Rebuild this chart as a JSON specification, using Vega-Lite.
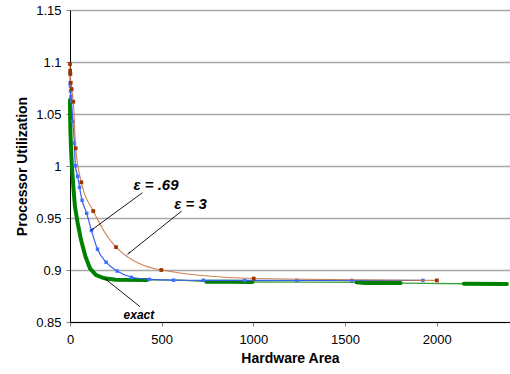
{
  "$schema": "https://vega.github.io/schema/vega-lite/v6.json",
  "width": 440,
  "height": 312,
  "autosize": {"type": "none"},
  "padding": {"left": 70, "top": 10, "right": 0, "bottom": 52},
  "background": "white",
  "config": {
    "view": {"stroke": null},
    "font": "Liberation Sans",
    "axis": {
      "labelFont": "Liberation Sans",
      "labelFontSize": 13,
      "labelColor": "#000000",
      "titleFont": "Liberation Sans",
      "titleFontSize": 14,
      "titleFontWeight": "bold",
      "titleColor": "#000000",
      "domainColor": "#000000",
      "domainWidth": 1,
      "tickColor": "gray",
      "tickSize": 4
    }
  },
  "datasets": {
    "eps3": [
      {"x": 0, "y": 1.098}, {"x": 1, "y": 1.0917}, {"x": 2, "y": 1.0885}, {"x": 4, "y": 1.080},
      {"x": 9, "y": 1.074}, {"x": 18, "y": 1.0618}, {"x": 31, "y": 1.017}, {"x": 62, "y": 0.9843},
      {"x": 127, "y": 0.9567}, {"x": 251, "y": 0.922}, {"x": 498, "y": 0.900}, {"x": 1002, "y": 0.8918},
      {"x": 2001, "y": 0.8900}
    ],
    "eps69": [
      {"x": 0, "y": 1.089}, {"x": 1, "y": 1.0795}, {"x": 2, "y": 1.077}, {"x": 3, "y": 1.072},
      {"x": 5, "y": 1.0667}, {"x": 8, "y": 1.0625}, {"x": 15, "y": 1.043}, {"x": 24, "y": 1.022},
      {"x": 29, "y": 1.0003}, {"x": 42, "y": 0.990}, {"x": 52, "y": 0.9795}, {"x": 66, "y": 0.967},
      {"x": 91, "y": 0.9545}, {"x": 117, "y": 0.938}, {"x": 150, "y": 0.920}, {"x": 197, "y": 0.9075},
      {"x": 257, "y": 0.899}, {"x": 335, "y": 0.893}, {"x": 433, "y": 0.891}, {"x": 565, "y": 0.8902},
      {"x": 728, "y": 0.8901}, {"x": 952, "y": 0.8900}, {"x": 1237, "y": 0.8900}, {"x": 1537, "y": 0.8900},
      {"x": 1925, "y": 0.8900}
    ],
    "exact": [
      {"x": 0, "y": 1.0635, "run": "A"}, {"x": 0.5, "y": 1.05, "run": "A"}, {"x": 2, "y": 1.035, "run": "A"},
      {"x": 5, "y": 1.020, "run": "A"}, {"x": 9, "y": 1.004, "run": "A"}, {"x": 15, "y": 0.988, "run": "A"},
      {"x": 21, "y": 0.974, "run": "A"}, {"x": 27, "y": 0.961, "run": "A"}, {"x": 42, "y": 0.945, "run": "A"},
      {"x": 60, "y": 0.929, "run": "A"}, {"x": 84, "y": 0.913, "run": "A"}, {"x": 109, "y": 0.9016, "run": "A"},
      {"x": 142, "y": 0.8952, "run": "A"}, {"x": 187, "y": 0.892, "run": "A"}, {"x": 250, "y": 0.8907, "run": "A"},
      {"x": 420, "y": 0.8905, "run": "A"},
      {"x": 600, "y": 0.8903},
      {"x": 743, "y": 0.8888, "run": "B"}, {"x": 870, "y": 0.8886, "run": "B"}, {"x": 995, "y": 0.8885, "run": "B"},
      {"x": 1300, "y": 0.8883},
      {"x": 1563, "y": 0.8882, "run": "C"}, {"x": 1610, "y": 0.8876, "run": "C"}, {"x": 1803, "y": 0.8874, "run": "C"},
      {"x": 2148, "y": 0.8868, "run": "D"}, {"x": 2383, "y": 0.8865, "run": "D"}
    ],
    "notes": [
      {"label": "ε = .69", "x": 469, "y": 0.9817, "kind": "eps"},
      {"label": "ε = 3", "x": 657, "y": 0.9635, "kind": "eps"},
      {"label": "exact", "x": 376, "y": 0.8567, "kind": "exact"}
    ],
    "arrows": [
      {"name": "a69", "x": 395, "y": 0.9743, "x2": 122, "y2": 0.9390},
      {"name": "a3", "x": 609, "y": 0.9567, "x2": 320, "y2": 0.916},
      {"name": "aex", "x": 382, "y": 0.8647, "x2": 197, "y2": 0.8908}
    ]
  },
  "encoding": {
    "x": {"field": "x", "type": "quantitative", "scale": {"domain": [0, 2400], "nice": false},
      "axis": {"values": [0, 500, 1000, 1500, 2000], "format": "d", "grid": false, "title": "Hardware Area", "labelPadding": 7, "titlePadding": 5, "labelFlush": false}},
    "y": {"field": "y", "type": "quantitative", "scale": {"domain": [0.85, 1.15], "zero": false, "nice": false},
      "axis": {"values": [0.85, 0.9, 0.95, 1, 1.05, 1.1, 1.15], "format": ".2~f", "grid": true, "gridColor": "darkgray", "gridWidth": 1.5, "title": "Processor Utilization", "labelPadding": 5, "titlePadding": 6}}
  },
  "layer": [
    {
      "data": {"name": "exact"},
      "mark": {"type": "line", "color": "#3DA33D", "strokeWidth": 1.4}
    },
    {
      "data": {"name": "exact"},
      "transform": [{"filter": "isValid(datum.run)"}],
      "mark": {"type": "line", "color": "#008000", "strokeWidth": 4, "strokeCap": "round"},
      "encoding": {
        "detail": {"field": "run"}
      }
    },
    {
      "data": {"name": "eps69"},
      "mark": {"type": "line", "color": "#3A5BF0", "strokeWidth": 1.2, "interpolate": "monotone",
        "point": {"shape": "square", "size": 12, "filled": true, "color": "#3F6FFF"}}
    },
    {
      "data": {"name": "eps3"},
      "mark": {"type": "line", "color": "#C8763F", "strokeWidth": 1.1, "interpolate": "monotone", "opacity": 0.9,
        "point": {"shape": "square", "size": 14, "filled": true, "color": "#993300", "opacity": 1}}
    },
    {
      "data": {"name": "arrows"},
      "mark": {"type": "rule", "color": "#000000", "strokeWidth": 0.9},
      "encoding": {
        "x2": {"field": "x2"},
        "y2": {"field": "y2"}
      }
    },
    {
      "data": {"name": "arrows"},
      "transform": [{"filter": "datum.name === 'a69'"}],
      "mark": {"type": "point", "shape": "wedge", "size": 40, "filled": true, "color": "#000000", "angle": 233.6},
      "encoding": {
        "x": {"field": "x2", "type": "quantitative"},
        "y": {"field": "y2", "type": "quantitative"}
      }
    },
    {
      "data": {"name": "arrows"},
      "transform": [{"filter": "datum.name === 'a3'"}],
      "mark": {"type": "point", "shape": "wedge", "size": 40, "filled": true, "color": "#000000", "angle": 231.5},
      "encoding": {
        "x": {"field": "x2", "type": "quantitative"},
        "y": {"field": "y2", "type": "quantitative"}
      }
    },
    {
      "data": {"name": "arrows"},
      "transform": [{"filter": "datum.name === 'aex'"}],
      "mark": {"type": "point", "shape": "wedge", "size": 40, "filled": true, "color": "#000000", "angle": 308.7},
      "encoding": {
        "x": {"field": "x2", "type": "quantitative"},
        "y": {"field": "y2", "type": "quantitative"}
      }
    },
    {
      "data": {"name": "notes"},
      "transform": [{"filter": "datum.kind === 'eps'"}],
      "mark": {"type": "text", "font": "Liberation Sans", "fontSize": 15, "fontWeight": "bold", "fontStyle": "italic", "align": "center", "baseline": "middle", "color": "#000000"},
      "encoding": {
        "text": {"field": "label"}
      }
    },
    {
      "data": {"name": "notes"},
      "transform": [{"filter": "datum.kind === 'exact'"}],
      "mark": {"type": "text", "font": "Liberation Sans", "fontSize": 12, "fontWeight": "bold", "fontStyle": "italic", "align": "center", "baseline": "middle", "color": "#000000"},
      "encoding": {
        "text": {"field": "label"}
      }
    }
  ]
}
